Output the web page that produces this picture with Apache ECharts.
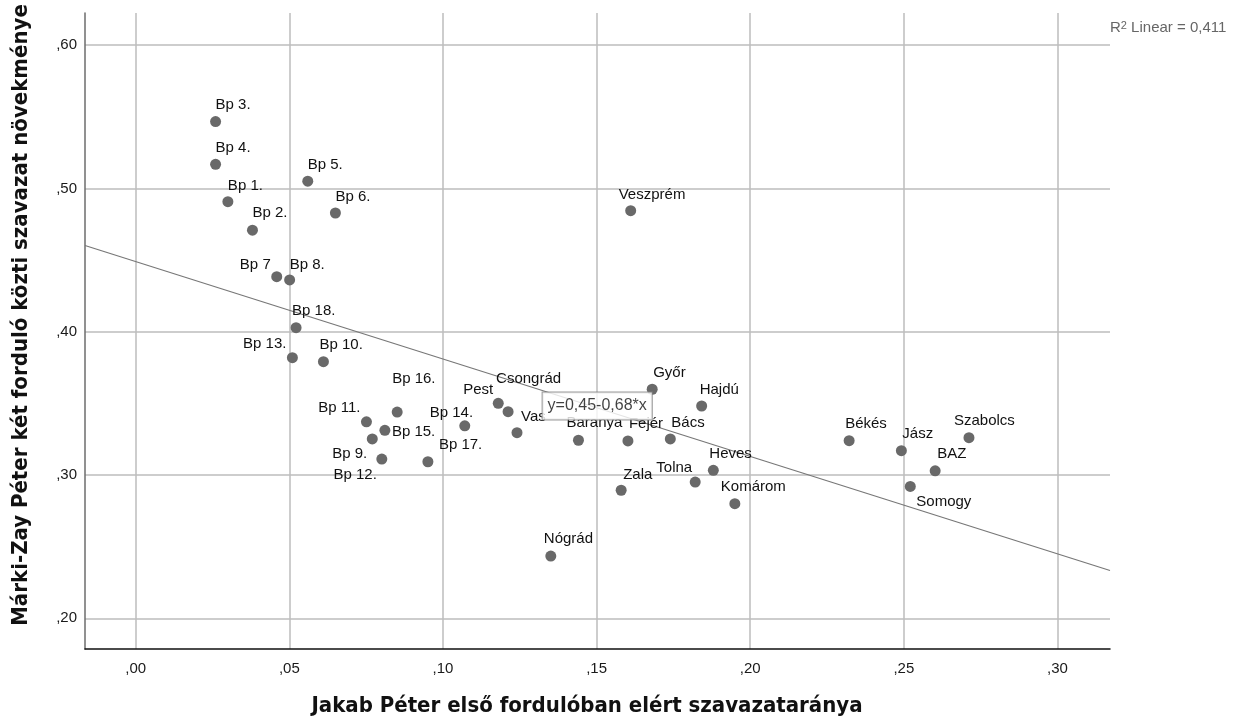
<!DOCTYPE html>
<html><head><meta charset="utf-8">
<script src="https://cdn.jsdelivr.net/npm/echarts@6/dist/echarts.min.js"></script>
<style>html,body{margin:0;padding:0;background:#fff}#c{width:1247px;height:722px}</style>
</head><body><div id="c"></div>
<script>
// ---- data ----
const names = ['Bp 1.','Bp 2.','Bp 3.','Bp 4.','Bp 5.','Bp 6.','Bp 7','Bp 8.','Bp 9.','Bp 10.',
  'Bp 11.','Bp 12.','Bp 13.','Bp 14.','Bp 15.','Bp 16.','Bp 17.','Bp 18.',
  'Pest','Csongrád','Vas','Baranya','Fejér','Bács','Győr','Hajdú','Heves','Tolna','Zala',
  'Komárom','Nógrád','Veszprém','Békés','Jász','Szabolcs','BAZ','Somogy'];
const xValues = [0.0300,0.0380,0.0260,0.0260,0.0560,0.0650,0.0459,0.0501,0.0770,0.0611,
  0.0751,0.0801,0.0510,0.1071,0.0811,0.0851,0.0951,0.0522,
  0.1180,0.1212,0.1241,0.1441,0.1602,0.1740,0.1681,0.1842,0.1880,0.1821,0.1580,
  0.1950,0.1351,0.1611,0.2322,0.2492,0.2712,0.2602,0.2521];
const yValues = [0.4908,0.4709,0.5467,0.5169,0.5051,0.4829,0.4385,0.4362,0.3252,0.3791,
  0.3372,0.3112,0.3819,0.3344,0.3312,0.3440,0.3093,0.4029,
  0.3501,0.3442,0.3296,0.3243,0.3238,0.3252,0.3599,0.3482,0.3033,0.2951,0.2894,
  0.2800,0.2435,0.4845,0.3240,0.3170,0.3261,0.3030,0.2921];
const xTickValues = [0, 0.05, 0.10, 0.15, 0.20, 0.25, 0.30];
const xTickLabels = [',00', ',05', ',10', ',15', ',20', ',25', ',30'];
const yTickValues = [0.2, 0.3, 0.4, 0.5, 0.6];
const yTickLabels = [',20', ',30', ',40', ',50', ',60'];
const fitCoef = [0.449, -0.68];           // intercept, slope
const eqText = 'y=0,45-0,68*x';
const eqAnchor = [0.1502, 0.3482];        // data coords of the equation box
const r2Value = '0,411';
const xTitle = 'Jakab Péter első fordulóban elért szavazataránya';
const yTitle = 'Márki-Zay Péter két forduló közti szavazat növekménye';
const xRange = [-0.0165, 0.3171];
const yRange = [0.1786, 0.6225];

// ---- label placement (presentation only): [dx, dy, align] relative to dot centre ----
const labelPlacement = [
  [0,-16,'left'],[0,-17,'left'],[0,-17,'left'],[0,-16,'left'],[0,-16,'left'],[0,-16,'left'],
  [-6,-12,'right'],[0,-15,'left'],[-5,15,'right'],[-4,-17,'left'],
  [-6,-14,'right'],[-5,16,'right'],[-6,-14,'right'],[-35,-13,'left'],[7,1,'left'],[-5,-33,'left'],
  [11,-17,'left'],[-4,-17,'left'],
  [-5,-13,'right'],[-12,-33,'left'],[4,-16,'left'],[-12,-17,'left'],[1,-17,'left'],[1,-16,'left'],
  [1,-16,'left'],[-2,-16,'left'],[-4,-16,'left'],[-3,-14,'right'],[2,-15,'left'],
  [-14,-17,'left'],[-7,-17,'left'],[-12,-16,'left'],[-4,-17,'left'],[1,-17,'left'],
  [-15,-17,'left'],[2,-17,'left'],[6,15,'left']
];

const FONT = "'Liberation Sans', Arial, sans-serif";
const TITLE_FONT = "'DejaVu Sans Condensed', 'Liberation Sans', sans-serif";
const DOT = 11;

function tickLabel(vals, labels) {
  return function (v) {
    for (let i = 0; i < vals.length; i++) if (Math.abs(vals[i] - v) < 1e-9) return labels[i];
    return '';
  };
}

const points = names.map((n, i) => ({
  name: n,
  value: [xValues[i], yValues[i]],
  label: {
    position: [DOT / 2 + labelPlacement[i][0], DOT / 2 + labelPlacement[i][1]],
    align: labelPlacement[i][2], verticalAlign: 'middle'
  }
}));

const fit = x => fitCoef[0] + fitCoef[1] * x;

const chart = echarts.init(document.getElementById('c'), null, { renderer: 'canvas' });
chart.setOption({
  animation: false,
  backgroundColor: '#fff',
  grid: { left: 85, right: 137, top: 13, bottom: 73, containLabel: false },
  xAxis: {
    type: 'value', min: xRange[0], max: xRange[1],
    axisLine: { show: true, onZero: false, lineStyle: { color: '#111', width: 1.5 } },
    axisTick: { show: false, customValues: xTickValues },
    axisLabel: { customValues: xTickValues, formatter: tickLabel(xTickValues, xTickLabels),
      color: '#1a1a1a', fontSize: 15, fontFamily: FONT, margin: 12 },
    splitLine: { show: true, lineStyle: { color: '#bdbdbd', width: 1.5 } }
  },
  yAxis: {
    type: 'value', min: yRange[0], max: yRange[1],
    axisLine: { show: true, onZero: false, lineStyle: { color: '#6d6d6d', width: 1.5 } },
    axisTick: { show: false, customValues: yTickValues },
    axisLabel: { customValues: yTickValues, formatter: tickLabel(yTickValues, yTickLabels),
      color: '#1a1a1a', fontSize: 15, fontFamily: FONT, margin: 8, padding: [6, 0, 0, 0] },
    splitLine: { show: true, lineStyle: { color: '#bdbdbd', width: 1.5 } }
  },
  series: [
    {
      type: 'line', silent: true, z: 2,
      data: [[xRange[0], fit(xRange[0])], [xRange[1], fit(xRange[1])]],
      symbol: 'none', lineStyle: { color: '#777', width: 1.2 }
    },
    {
      type: 'scatter', z: 3, silent: true,
      symbol: 'circle', symbolSize: DOT,
      itemStyle: { color: '#696969', opacity: 1 },
      label: { show: true, formatter: '{b}', color: '#111', fontSize: 15, fontFamily: FONT },
      labelLayout: { hideOverlap: false },
      data: points
    },
    {
      type: 'scatter', z: 10, silent: true,
      symbol: 'circle', symbolSize: 1, itemStyle: { color: 'rgba(0,0,0,0)' },
      label: { show: true, position: 'inside', formatter: eqText, color: '#111',
        fontSize: 16, fontFamily: FONT, backgroundColor: '#fff', borderColor: '#7f7f7f',
        borderWidth: 1, padding: [6, 5, 5, 5] },
      data: [eqAnchor]
    }
  ],
  graphic: [
    { type: 'text', x: 587, y: 706, silent: true,
      style: { text: xTitle, font: 'bold 22px ' + TITLE_FONT, fill: '#111', align: 'center', verticalAlign: 'middle' } },
    { type: 'text', x: 21, y: 315, rotation: Math.PI / 2, silent: true,
      style: { text: yTitle, font: 'bold 22px ' + TITLE_FONT, fill: '#111', align: 'center', verticalAlign: 'middle' } },
    { type: 'text', x: 1110, y: 28, silent: true,
      style: { text: '{r|R}{s|2}{r| Linear = ' + r2Value + '}', align: 'left', verticalAlign: 'middle',
        rich: { r: { fontSize: 15, fontFamily: FONT, fill: '#666', color: '#666' },
                s: { fontSize: 11, fontFamily: FONT, fill: '#666', color: '#666', verticalAlign: 'top' } } } }
  ]
});
</script></body></html>
